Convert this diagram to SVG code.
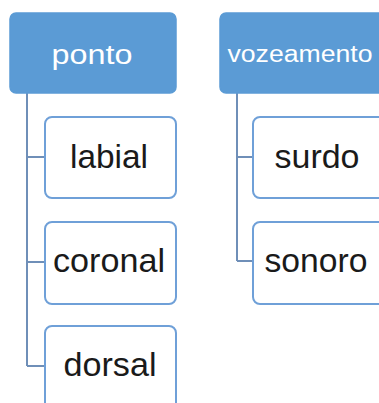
<svg xmlns="http://www.w3.org/2000/svg" width="379" height="403" viewBox="0 0 379 403">
<style>
.hdr{fill:#5b9bd5;stroke:#5b9bd5;stroke-width:1.5}
.child{fill:#fff;stroke:#6fa0d8;stroke-width:2}
.conn{fill:none;stroke:#6f8fb8;stroke-width:2}
.ht{fill:#fff;font-family:"Liberation Sans",Arial,sans-serif;text-anchor:middle}
.ct{fill:#1a1a1a;font-family:"Liberation Sans",Arial,sans-serif;font-size:34px;text-anchor:middle}
</style>
<rect width="379" height="403" fill="#fff"/>
<g id="connectors">
<path class="conn" d="M27 93 V366 M27 157 H45 M27 262 H45 M27 366 H45"/>
<path class="conn" d="M237 93 V261 M237 157 H253 M237 261 H253"/>
</g>
<g id="ponto"><rect class="hdr" x="10" y="13" width="166" height="80" rx="6"/><text class="ht" x="92" y="64" font-size="27" textLength="81" lengthAdjust="spacingAndGlyphs">ponto</text></g>
<g id="labial"><rect class="child" x="45" y="117" width="131" height="81" rx="7"/><text class="ct" x="109" y="168" textLength="78" lengthAdjust="spacingAndGlyphs">labial</text></g>
<g id="coronal"><rect class="child" x="45" y="222" width="131" height="82" rx="7"/><text class="ct" x="109" y="272" textLength="112" lengthAdjust="spacingAndGlyphs">coronal</text></g>
<g id="dorsal"><rect class="child" x="45" y="326" width="131" height="90" rx="7"/><text class="ct" x="110" y="376" textLength="93" lengthAdjust="spacingAndGlyphs">dorsal</text></g>
<g id="vozeamento"><rect class="hdr" x="220" y="13" width="170" height="80" rx="6"/><text class="ht" x="300" y="62" font-size="23" textLength="145" lengthAdjust="spacingAndGlyphs">vozeamento</text></g>
<g id="surdo"><rect class="child" x="253" y="117" width="140" height="81" rx="7"/><text class="ct" x="317" y="168" textLength="85" lengthAdjust="spacingAndGlyphs">surdo</text></g>
<g id="sonoro"><rect class="child" x="253" y="222" width="140" height="82" rx="7"/><text class="ct" x="316" y="272" textLength="103" lengthAdjust="spacingAndGlyphs">sonoro</text></g>
</svg>
